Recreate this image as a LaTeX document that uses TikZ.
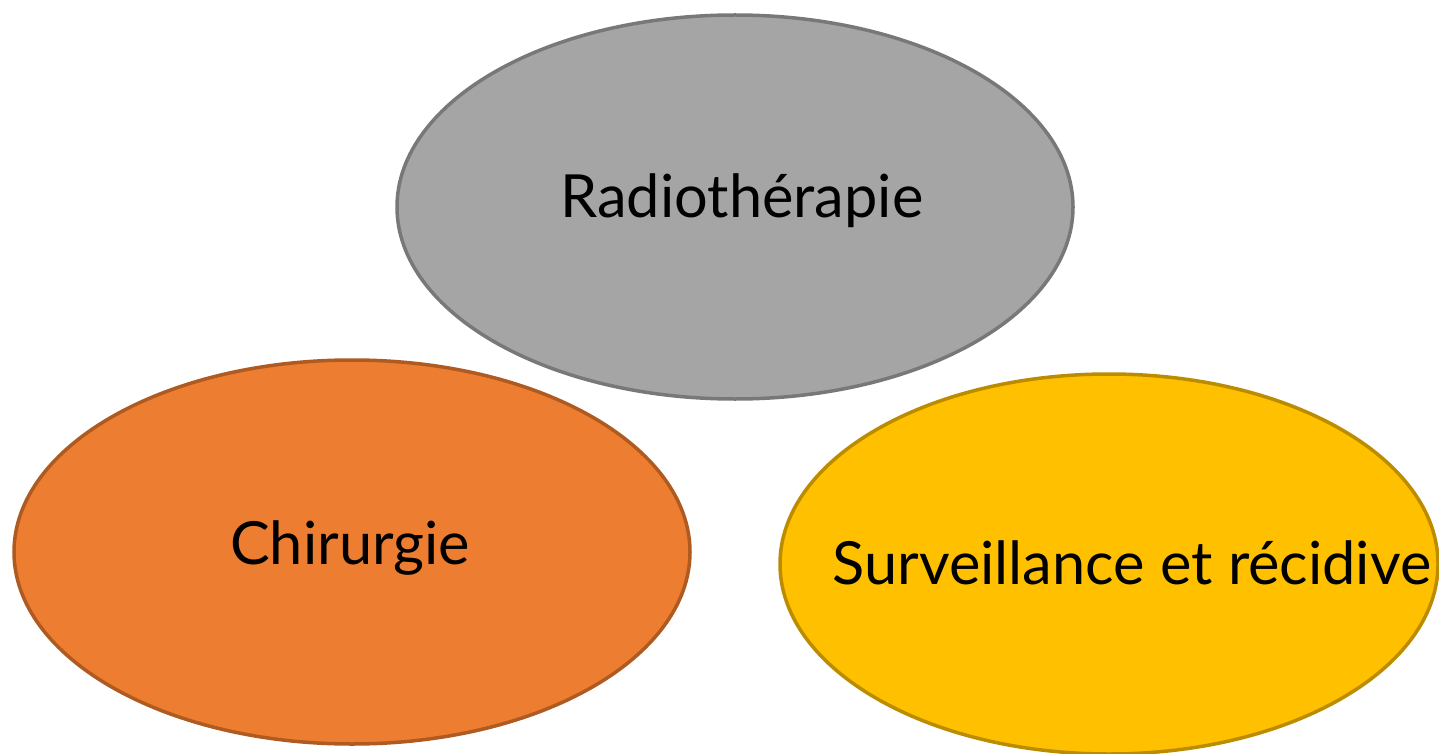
\documentclass[tikz,border=0pt]{standalone}
\usepackage{fontspec}
\setmainfont{Lato}
\usetikzlibrary{shapes.geometric}
\definecolor{grayfill}{HTML}{A5A5A5}
\definecolor{graydraw}{HTML}{787878}
\definecolor{orangefill}{HTML}{ED7D31}
\definecolor{orangedraw}{HTML}{AE5A21}
\definecolor{yellowfill}{HTML}{FFC000}
\definecolor{yellowdraw}{HTML}{BC8C00}
\tikzset{
  blob/.style={ellipse, line width=3.5pt, inner sep=0pt, outer sep=0pt},
  lbl/.style={anchor=base, inner sep=0pt, font=\fontsize{59.5}{64}\selectfont, text=black}
}
\begin{document}
\begin{tikzpicture}[x=1pt,y=1pt]
\useasboundingbox (0,-754) rectangle (1439,0);
\node[blob, fill=grayfill, draw=graydraw, minimum width=676pt, minimum height=384pt] (radio) at (735,-207) {};
\node[blob, fill=orangefill, draw=orangedraw, minimum width=676pt, minimum height=384pt] (chir) at (352,-552) {};
\node[blob, fill=yellowfill, draw=yellowdraw, minimum width=658pt, minimum height=380pt] (surv) at (1109,-564) {};
\node[lbl] (tradio) at (742,-217) {Radiothérapie};
\node[lbl] (tchir) at (350,-564) {Chirurgie};
\node[lbl] (tsurv) at (1132,-584) {Surveillance et récidive};
\end{tikzpicture}
\end{document}
